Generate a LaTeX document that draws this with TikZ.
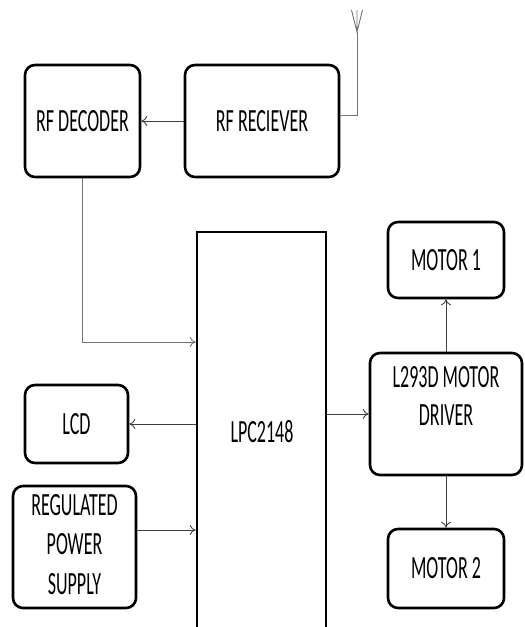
\documentclass[tikz,border=0pt]{standalone}
\usepackage{fontspec}
\setmainfont{Carlito}
\usetikzlibrary{arrows.meta}
\newcommand{\tallt}[1]{\scalebox{1}[1.8]{#1}}
\begin{document}
\begin{tikzpicture}[x=1pt,y=-1pt,
  blk/.style={draw=black,line width=2.6pt,rounded corners=10pt,inner sep=0pt,
    font=\fontsize{18}{22}\selectfont,align=center},
  conn/.style={draw=black!75,line width=0.9pt,-{To[length=6pt,width=10pt]}},
  wire/.style={draw=black!55,line width=0.9pt}]
\useasboundingbox (0,0) rectangle (525,627);
\begin{scope}
\clip (0,0) rectangle (525,627);
\node[blk,rounded corners=0pt,minimum width=129pt,minimum height=400pt] (lpc) at (261.5,432) {};
\end{scope}
\node[font=\fontsize{18}{22}\selectfont] (lpct) at (262,432) {\tallt{LPC2148}};
\node[blk,minimum width=115pt,minimum height=112pt] (dec) at (82.5,121) {\tallt{RF DECODER}};
\node[blk,minimum width=154pt,minimum height=112pt] (rx) at (262,121) {\tallt{RF RECIEVER}};
\node[blk,minimum width=116pt,minimum height=76pt] (m1) at (446,260) {\tallt{MOTOR 1}};
\node[blk,minimum width=152pt,minimum height=122pt] (drv) at (446,414) {\tallt{\begin{tabular}{@{}c@{}}L293D MOTOR\\[-1pt]DRIVER\\[17pt]\end{tabular}}};
\node[blk,minimum width=103pt,minimum height=78pt] (lcd) at (76.5,424) {\tallt{LCD}};
\node[blk,minimum width=123pt,minimum height=122pt] (psu) at (74.5,547) {\tallt{\begin{tabular}{@{}c@{}}REGULATED\\[0pt]POWER\\[0pt]SUPPLY\end{tabular}}};
\node[blk,minimum width=116pt,minimum height=79pt] (m2) at (446,568.5) {\tallt{MOTOR 2}};
% antenna
\coordinate (ant) at (357,32);
\coordinate (antl) at (351.5,10);
\coordinate (antr) at (362.5,10);
\coordinate (antm) at (357,10);
\coordinate (rxo) at ([yshift=6pt]rx.east);
\coordinate (psuo) at ([yshift=17pt]psu.east);
\coordinate (deci) at ([yshift=90pt]lpc.west);
\draw[wire] (rxo) -| (ant);
\draw[wire] (antl) -- (ant) -- (antr) (ant) -- (antm);
% connectors
\draw[conn] (rx.west) -- (dec.east);
\draw[conn,draw=black!55] (dec.south) |- (deci);
\draw[conn] (lpc.west |- lcd.east) -- (lcd.east);
\draw[conn] (psuo) -- (lpc.west |- psuo);
\draw[conn] (lpc.east |- drv.west) -- (drv.west);
\draw[conn] (drv.north) -- (m1.south);
\draw[conn] (drv.south) -- (m2.north);
\end{tikzpicture}
\end{document}
